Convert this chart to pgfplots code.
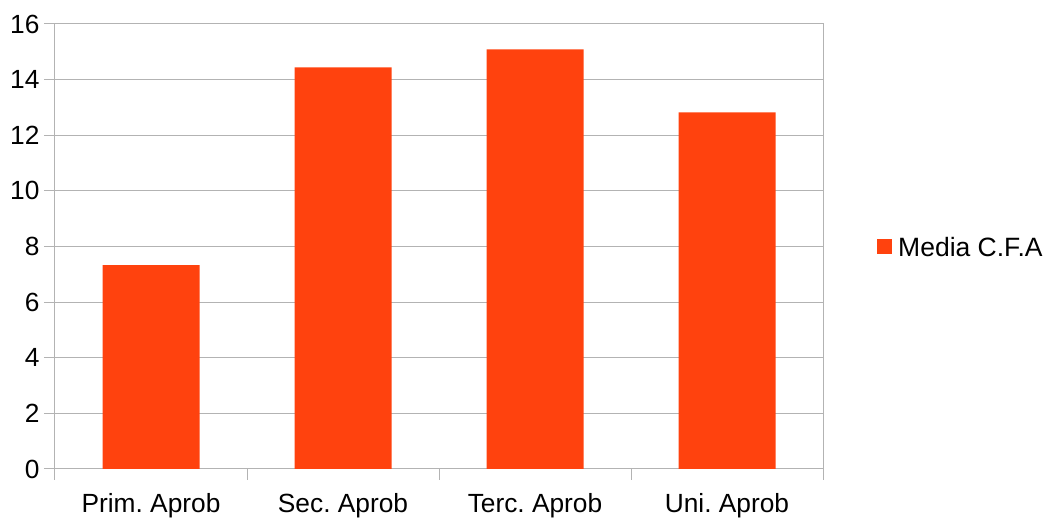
\documentclass[border=0pt]{standalone}
\usepackage{pgfplots}
\pgfplotsset{compat=1.18}
\usepackage{fontspec}
\setmainfont{Liberation Sans}
\definecolor{bar}{HTML}{FF420E}
\definecolor{axgray}{HTML}{B3B3B3}
\begin{document}
\frenchspacing
\begin{tikzpicture}[x=1pt,y=1pt]
\path[use as bounding box] (-55,-49) rectangle (993,469);
\begin{axis}[
  scale only axis,
  width=768pt, height=445pt,
  xmin=-0.5, xmax=3.5,
  ymin=0, ymax=16,
  ytick={0,2,...,16},
  xtick={0,1,2,3},
  xticklabels={Prim. Aprob, Sec. Aprob, Terc. Aprob, Uni. Aprob},
  minor xtick={-0.5,0.5,1.5,2.5,3.5},
  major x tick style={draw=none},
  xtick pos=bottom, ytick pos=left,
  tick align=outside,
  major tick length=11pt,
  minor tick length=11pt,
  tick style={axgray, line width=1pt},
  ymajorgrids,
  grid style={axgray, line width=1pt},
  axis line style={axgray, line width=1pt},
  ticklabel style={font=\fontsize{26.3}{28}\selectfont, text=black},
  yticklabel style={xshift=-1pt},
  xticklabel style={yshift=-10pt},
  /pgf/number format/assume math mode=true,
  ybar, bar width=97pt,
  legend style={at={(1,0.5)}, xshift=51pt, yshift=-1pt, anchor=west, draw=none, fill=none,
    font=\fontsize{26.5}{28}\selectfont},
  legend image code/.code={\fill[#1] (0pt,-7pt) rectangle (15pt,8pt); \path (19pt,0pt);},
]
\addplot[fill=bar, draw=none] coordinates {(0,7.33) (1,14.44) (2,15.09) (3,12.82)};
\addlegendentry{Media C.F.A}
\end{axis}
\end{tikzpicture}
\end{document}
